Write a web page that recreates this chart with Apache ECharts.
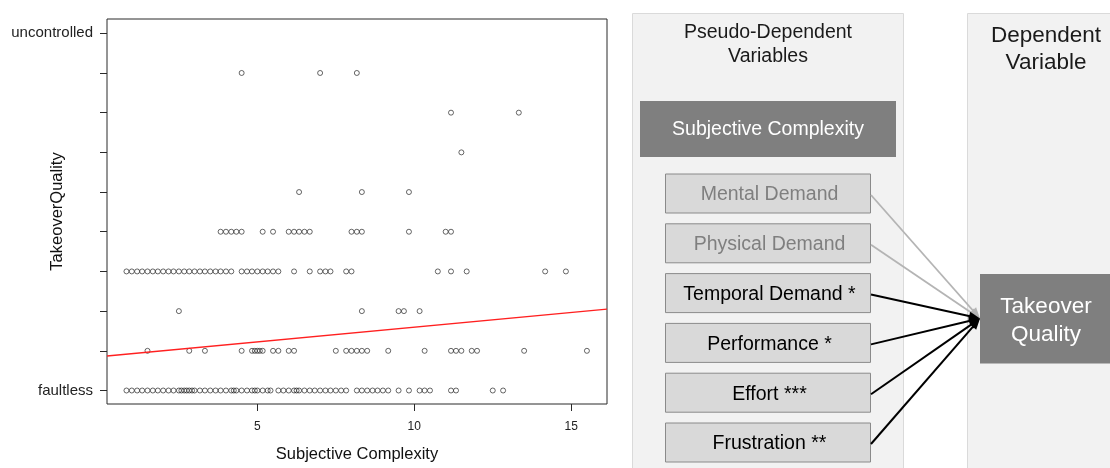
<!DOCTYPE html>
<html>
<head>
<meta charset="utf-8">
<script src="https://cdn.jsdelivr.net/npm/echarts@6/dist/echarts.min.js"></script>
<style>
  html, body { margin: 0; padding: 0; background: #ffffff; }
  #chart { width: 1110px; height: 468px; }
</style>
</head>
<body>
<div id="chart"></div>
<script>
// ---------- DATA ----------
// y-levels of TakeoverQuality: 0 = faultless ... 9 = uncontrolled
const yLevelLabels = ['faultless', '', '', '', '', '', '', '', '', 'uncontrolled'];
const xTickValues = [5, 10, 15];
const yTickValues = [0, 1, 2, 3, 4, 5, 6, 7, 8, 9];

// Subjective Complexity values of the points in each TakeoverQuality level
const level0 = [0.83, 1.0, 1.17, 1.33, 1.5, 1.67, 1.83, 2.0, 2.17, 2.33,
  2.5, 2.58, 2.67, 2.75, 2.83, 2.92, 3.0,
  3.17, 3.33, 3.5, 3.67, 3.83, 4.0, 4.17, 4.25, 4.33, 4.5, 4.67,
  4.83, 4.92, 5.0, 5.17, 5.33, 5.42, 5.67, 5.83, 6.0, 6.17, 6.25,
  6.33, 6.5, 6.67, 6.83, 7.0, 7.17, 7.33, 7.5, 7.67, 7.83,
  8.17, 8.33, 8.5, 8.67, 8.83, 9.0, 9.17, 9.5, 9.83,
  10.17, 10.33, 10.5, 11.17, 11.33, 12.5, 12.83];
const level1 = [1.5, 2.83, 3.33, 4.5, 4.83, 4.92, 5.0, 5.08, 5.17, 5.5, 5.67,
  6.0, 6.17, 7.5, 7.83, 8.0, 8.17, 8.33, 8.5, 9.17, 10.33,
  11.17, 11.33, 11.5, 11.83, 12.0, 13.5, 15.5];
const level2 = [2.5, 8.33, 9.5, 9.67, 10.17];
const level3 = [0.83, 1.0, 1.17, 1.33, 1.5, 1.67, 1.83, 2.0, 2.17, 2.33, 2.5,
  2.67, 2.83, 3.0, 3.17, 3.33, 3.5, 3.67, 3.83, 4.0, 4.17,
  4.5, 4.67, 4.83, 5.0, 5.17, 5.33, 5.5, 5.67, 6.17, 6.67,
  7.0, 7.17, 7.33, 7.83, 8.0, 10.75, 11.17, 11.67, 14.17, 14.83];
const level4 = [3.83, 4.0, 4.17, 4.33, 4.5, 5.17, 5.5, 6.0, 6.17, 6.33, 6.5, 6.67,
  8.0, 8.17, 8.33, 9.83, 11.0, 11.17];
const level5 = [6.33, 8.33, 9.83];
const level6 = [11.5];
const level7 = [11.17, 13.33];
const level8 = [4.5, 7.0, 8.17];
const level9 = [];
const levels = [level0, level1, level2, level3, level4, level5, level6, level7, level8, level9];

// regression line endpoints at the plot edges
const regLineX = [0.21, 16.14];
const regLineY = [0.87, 2.05];

// diagram texts
const diagramTitleLeft = 'Pseudo-Dependent\nVariables';
const diagramTitleRight = 'Dependent\nVariable';
const headerBox = 'Subjective Complexity';
const predictors = ['Mental Demand', 'Physical Demand', 'Temporal Demand *', 'Performance *', 'Effort ***', 'Frustration **'];
const predictorSignificant = [false, false, true, true, true, true];
const targetBox = 'Takeover\nQuality';

// ---------- BUILD ----------
const scatterData = [];
levels.forEach((xs, lvl) => xs.forEach(x => scatterData.push([x, lvl])));
const regData = regLineX.map((x, i) => [x, regLineY[i]]);

const FONT_PLOT = '"Liberation Sans", Arial, sans-serif';
const FONT_DIA = '"Liberation Sans", Arial, sans-serif';

const graphics = [];
// panels
graphics.push({ type: 'rect', shape: { x: 632.5, y: 13.5, width: 271, height: 470 },
  style: { fill: '#f2f2f2', stroke: '#dadada', lineWidth: 1 }, silent: true });
graphics.push({ type: 'rect', shape: { x: 967.5, y: 13.5, width: 160, height: 470 },
  style: { fill: '#f2f2f2', stroke: '#dadada', lineWidth: 1 }, silent: true });

function txt(text, x, y, size, color, lh) {
  return { type: 'text', silent: true, style: {
    text: text, x: x, y: y, fill: color, font: size + 'px ' + FONT_DIA,
    textAlign: 'center', textVerticalAlign: 'middle', align: 'center', verticalAlign: 'middle',
    lineHeight: lh || Math.round(size * 1.2) } };
}
graphics.push(txt(diagramTitleLeft, 768, 45, 19.5, '#1a1a1a', 24));
graphics.push(txt(diagramTitleRight, 1046, 49.5, 22.5, '#1a1a1a', 27));

// header box
graphics.push({ type: 'rect', shape: { x: 640, y: 101, width: 256, height: 56 },
  style: { fill: '#7f7f7f' }, silent: true });
graphics.push(txt(headerBox, 768, 130, 19.5, '#ffffff'));

// target box
const tgt = { x: 980, y: 274, w: 130, h: 89.5 };
graphics.push({ type: 'rect', shape: { x: tgt.x, y: tgt.y, width: tgt.w, height: tgt.h },
  style: { fill: '#7f7f7f' }, silent: true });
graphics.push(txt(targetBox, 1046, 320.5, 22.5, '#ffffff', 28));

// predictor boxes and arrows
const boxX = 665, boxW = 205, boxH = 39, boxTop0 = 173.5, boxStep = 49.8;
const tip = [980, 318.5];
const arrowLayers = [[], []];
predictors.forEach((name, i) => {
  const top = boxTop0 + i * boxStep;
  const sig = predictorSignificant[i];
  graphics.push({ type: 'rect', shape: { x: boxX + 0.5, y: top + 0.5, width: boxW, height: boxH },
    style: { fill: '#d9d9d9', stroke: '#8a8a8a', lineWidth: 1 }, silent: true });
  graphics.push(txt(name, boxX + boxW / 2 + 2, top + boxH / 2 + 2, 19.5, sig ? '#000000' : '#7f7f7f'));
  const start = [boxX + boxW + 1, top + boxH / 2 + 2];
  const dx = tip[0] - start[0], dy = tip[1] - start[1];
  const len = Math.sqrt(dx * dx + dy * dy);
  const ux = dx / len, uy = dy / len;
  const aL = 11, aW = 4.5;
  const base = [tip[0] - ux * aL, tip[1] - uy * aL];
  const color = sig ? '#000000' : '#b4b4b4';
  const layer = sig ? 1 : 0;
  arrowLayers[layer].push({ type: 'line', silent: true,
    shape: { x1: start[0], y1: start[1], x2: base[0] + ux * 2, y2: base[1] + uy * 2 },
    style: { stroke: color, lineWidth: sig ? 2 : 1.8 } });
  arrowLayers[layer].push({ type: 'polygon', silent: true,
    shape: { points: [tip, [base[0] - uy * aW, base[1] + ux * aW], [base[0] + uy * aW, base[1] - ux * aW]] },
    style: { fill: color } });
});
graphics.push(...arrowLayers[0], ...arrowLayers[1]);

const chart = echarts.init(document.getElementById('chart'), null, { renderer: 'canvas' });
chart.setOption({
  animation: false,
  backgroundColor: '#ffffff',
  grid: { left: 107, top: 19, width: 500, height: 385, show: true,
    borderColor: '#2a2a2a', borderWidth: 1, backgroundColor: 'transparent',
    containLabel: false, outerBoundsMode: 'none' },
  xAxis: {
    type: 'value', min: regLineX[0], max: regLineX[1],
    axisLine: { show: false, onZero: false }, splitLine: { show: false },
    axisTick: { show: true, inside: false, length: 7, customValues: xTickValues, lineStyle: { color: '#2a2a2a' } },
    axisLabel: { customValues: xTickValues, margin: 17, fontSize: 12, color: '#222', fontFamily: FONT_PLOT },
    name: 'Subjective Complexity', nameLocation: 'middle', nameGap: 42, nameMoveOverlap: false,
    nameTextStyle: { fontSize: 16.5, color: '#111', fontFamily: FONT_PLOT }
  },
  yAxis: {
    type: 'value', min: -0.34, max: 9.36,
    axisLine: { show: false, onZero: false }, splitLine: { show: false },
    axisTick: { show: true, inside: false, length: 7, customValues: yTickValues, lineStyle: { color: '#2a2a2a' } },
    axisLabel: { customValues: [0, 9], margin: 14, fontSize: 15, color: '#222', fontFamily: FONT_PLOT,
      padding: [5, 0, 0, 0], formatter: v => yLevelLabels[Math.round(v)] },
    name: 'TakeoverQuality', nameLocation: 'middle', nameGap: 41, nameMoveOverlap: false,
    nameTextStyle: { fontSize: 16.5, color: '#111', fontFamily: FONT_PLOT }
  },
  series: [
    { type: 'scatter', data: scatterData, symbol: 'circle', symbolSize: 5,
      itemStyle: { color: 'rgba(0,0,0,0)', borderColor: '#111', borderWidth: 0.8 },
      emphasis: { disabled: true }, silent: true, z: 2 },
    { type: 'line', data: regData, symbol: 'none', silent: true, z: 3,
      lineStyle: { color: '#ff2020', width: 1.4 } }
  ],
  graphic: { elements: graphics }
});
</script>
</body>
</html>
